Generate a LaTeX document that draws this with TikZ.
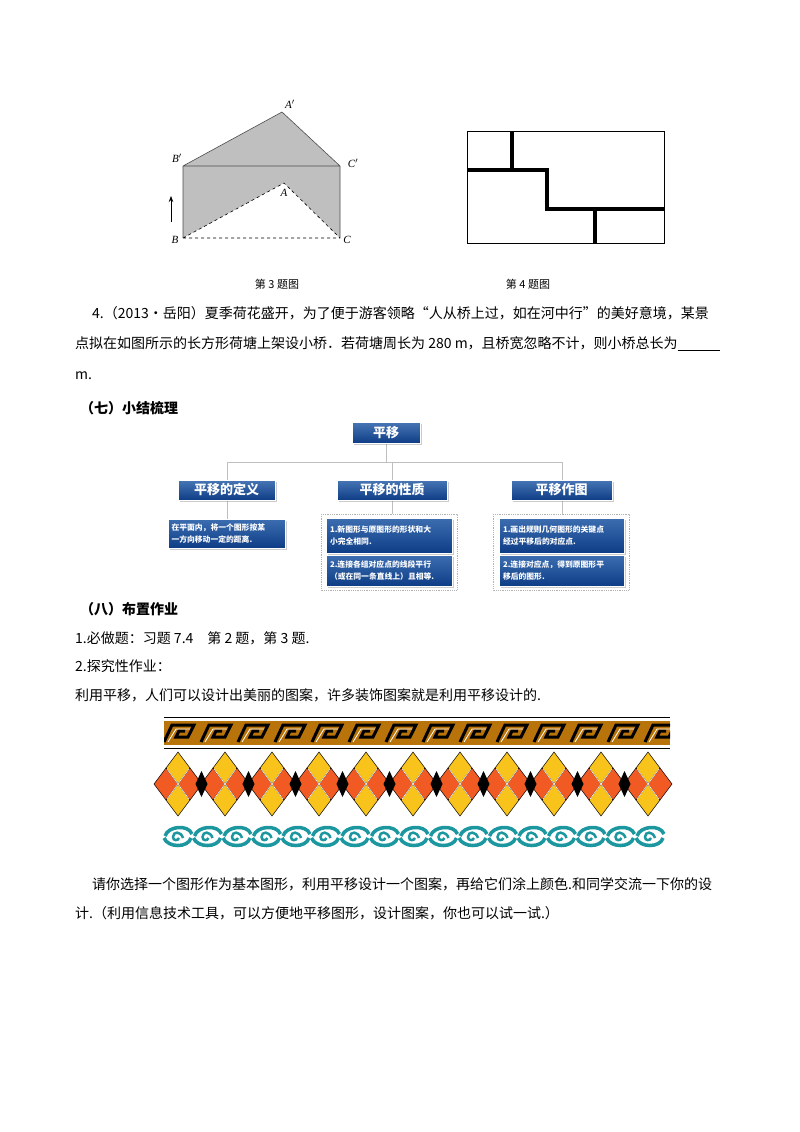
\documentclass[tikz,border=0pt]{standalone}
\usepackage{fontspec}
\setmainfont{Liberation Serif}
\newfontfamily\cjk{Noto Sans CJK SC}
\usetikzlibrary{shadows,arrows.meta}
\definecolor{bx}{HTML}{1A54A3}
\definecolor{bxd}{HTML}{0E3D86}
\definecolor{brn}{HTML}{B8730A}
\definecolor{yel}{HTML}{F8C31A}
\definecolor{org}{HTML}{F15A22}
\definecolor{teal}{HTML}{1C97A0}
\tikzset{
 body/.style={anchor=west,inner sep=0pt,font=\cjk\fontsize{14}{16}\selectfont},
 lbl/.style={inner sep=0pt,font=\itshape\fontsize{11}{12}\selectfont},
 hbox/.style={draw=white,line width=0.8pt,top color=bx!80!white,bottom color=bxd,text=white,inner sep=0pt,font=\cjk\bfseries\fontsize{13}{14}\selectfont,drop shadow={shadow xshift=2pt,shadow yshift=-2pt,opacity=.4}},
 sbox/.style={draw=white,line width=0.6pt,top color=bx!85!white,bottom color=bxd,text=white,inner sep=0pt,align=left,font=\cjk\bfseries\fontsize{7.8}{12}\selectfont,drop shadow={shadow xshift=1.5pt,shadow yshift=-1.5pt,opacity=.4}},
 frame/.style={draw=black!30,densely dotted,line width=0.8pt},
 link/.style={draw=black!25,line width=0.8pt},
 thick4/.style={line width=4pt}
}
\begin{document}
\begin{tikzpicture}[x=1pt,y=-1pt]
\useasboundingbox (0,0) rectangle (800,1132);
% figure 3
\coordinate (B) at (183,238); \coordinate (C) at (340,238);
\coordinate (B1) at (183,166); \coordinate (C1) at (340,166);
\coordinate (A1) at (282,112); \coordinate (A) at (284,183);
\fill[black!25] (B1)--(A1)--(C1)--(C)--(A)--(B)--cycle;
\draw[black!70,line width=0.6pt] (B)--(B1)--(A1)--(C1)--(C) (B1)--(C1);
\draw[dashed,black,line width=0.6pt] (B)--(A)--(C) (B)--(C);
\coordinate (ar1) at (171,222); \coordinate (ar2) at (171,196);
\draw[-{Stealth[length=6pt]},line width=0.7pt] (ar1)--(ar2);
\node[lbl] (lA1) at (290,104) {A$'$};
\node[lbl] (lB1) at (177,158) {B$'$};
\node[lbl] (lC1) at (353,163) {C$'$};
\node[lbl] (lA) at (284,193) {A};
\node[lbl] (lB) at (175,240) {B};
\node[lbl] (lC) at (347,240) {C};
% figure 4
\draw[line width=0.9pt] (467,131) rectangle (664,243);
\draw[thick4] (512,131)--(512,170) (467,170)--(547,170)--(547,209)--(664,209) (595,209)--(595,243);
% captions
\node[body,anchor=center,font=\cjk\fontsize{11}{12}\selectfont] (c3) at (277,284) {第 3 题图};
\node[body,anchor=center,font=\cjk\fontsize{11}{12}\selectfont] (c4) at (528,284) {第 4 题图};
% text
\node[body] (t1) at (92,313) {4.（2013•岳阳）夏季荷花盛开，为了便于游客领略“人从桥上过，如在河中行”的美好意境，某景};
\node[body] (t2) at (75,344) {点拟在如图所示的长方形荷塘上架设小桥．若荷塘周长为 280 m，且桥宽忽略不计，则小桥总长为\rule[-2pt]{42pt}{0.6pt}};
\node[body] (t3) at (75,376) {m.};
\node[body,font=\cjk\bfseries\fontsize{14}{16}\selectfont] (s7) at (80,408) {（七）小结梳理};
% concept map
\draw[link] (386,443)--(386,462) (227,462)--(562,462) (227,462)--(227,480) (392,462)--(392,480) (562,462)--(562,480)
 (227,500)--(227,519) (392,500)--(392,514) (562,500)--(562,514);
\node[hbox,minimum width=68pt,minimum height=21pt] (root) at (386,432.5) {平移};
\node[hbox,minimum width=97pt,minimum height=20pt] (n1) at (226.5,490) {平移的定义};
\node[hbox,minimum width=110pt,minimum height=20pt] (n2) at (392,490) {平移的性质};
\node[hbox,minimum width=101pt,minimum height=20pt] (n3) at (561.5,490) {平移作图};
\node[sbox,minimum width=117pt,minimum height=29pt,text width=110pt] (d1) at (226.5,533.5) {在平面内，将一个图形按某\\一方向移动一定的距离.};
\draw[frame] (321,514) rectangle (457,590);
\draw[frame] (493,514) rectangle (629,590);
\node[sbox,minimum width=126pt,minimum height=35pt,text width=118pt] (p1) at (389,535.5) {1.新图形与原图形的形状和大\\小完全相同.};
\node[sbox,minimum width=126pt,minimum height=31pt,text width=118pt] (p2) at (389,570.5) {2.连接各组对应点的线段平行\\（或在同一条直线上）且相等.};
\node[sbox,minimum width=125pt,minimum height=35pt,text width=117pt] (q1) at (561.5,535.5) {1.画出规则几何图形的关键点\\经过平移后的对应点.};
\node[sbox,minimum width=125pt,minimum height=31pt,text width=117pt] (q2) at (561.5,570.5) {2.连接对应点，得到原图形平\\移后的图形.};
% homework
\node[body,font=\cjk\bfseries\fontsize{14}{16}\selectfont] (s8) at (80,609) {（八）布置作业};
\node[body] (h1) at (75,638) {1.必做题：习题 7.4\quad 第 2 题，第 3 题.};
\node[body] (h2) at (75,666) {2.探究性作业：};
\node[body] (h3) at (75,695) {利用平移，人们可以设计出美丽的图案，许多装饰图案就是利用平移设计的.};
% greek key band
\fill[brn] (164,720) rectangle (670,746);
\draw[line width=1.6pt] (164,717.5)--(670,717.5) (164,748.5)--(670,748.5);
\draw[white,line width=0.8pt] (164,720.5)--(670,720.5) (164,745.5)--(670,745.5);
\begin{scope}
\clip (164,721) rectangle (670,745);
\foreach \i in {0,...,13}{
 \pgfmathsetmacro{\x}{164+37*\i}
 \draw[line width=3pt,line join=miter] (\x,742)--(\x+8,725)--(\x+30,725)--(\x+24,737)--(\x+12,737)--(\x+15,731)--(\x+21,731);
 \draw[white,line width=0.8pt] (\x+4,742)--(\x+12,729)--(\x+26,729);
}
\end{scope}
% diamonds
\foreach \i in {0,...,10}{
 \pgfmathsetmacro{\c}{178+47*\i}
 \draw[fill=yel,line width=0.5pt] (\c,752)--(\c+12,768)--(\c,784)--(\c-12,768)--cycle;
 \draw[fill=yel,line width=0.5pt] (\c,784)--(\c+12,800)--(\c,816)--(\c-12,800)--cycle;
 \draw[fill=org,line width=0.5pt] (\c-24,784)--(\c-12,768)--(\c,784)--(\c-12,800)--cycle;
 \draw[fill=org,line width=0.5pt] (\c+24,784)--(\c+12,768)--(\c,784)--(\c+12,800)--cycle;
 \draw[white,line width=0.6pt] (\c-11,769)--(\c+11,799) (\c+11,769)--(\c-11,799);
}
\foreach \i in {0,...,9}{
 \pgfmathsetmacro{\c}{201.5+47*\i}
 \fill (\c,771)--(\c+6,784)--(\c,797)--(\c-6,784)--cycle;
}
% waves
\foreach \i in {0,...,16}{
 \pgfmathsetmacro{\c}{178+29.5*\i}
 \draw[teal,line width=3.5pt] (\c-13,836) .. controls (\c-10,826) and (\c+10,824) .. (\c+14,834);
 \draw[teal,line width=3.5pt] (\c-14,838) .. controls (\c-10,848) and (\c+10,848) .. (\c+13,838);
 \draw[teal,line width=2.5pt] (\c+5,838) .. controls (\c+3,831) and (\c-5,831) .. (\c-5,837) .. controls (\c-5,841) and (\c,841) .. (\c+1,838);
}
% final paragraph
\node[body] (f1) at (92,884) {请你选择一个图形作为基本图形，利用平移设计一个图案，再给它们涂上颜色.和同学交流一下你的设};
\node[body] (f2) at (75,913) {计.（利用信息技术工具，可以方便地平移图形，设计图案，你也可以试一试.）};
\end{tikzpicture}
\end{document}
